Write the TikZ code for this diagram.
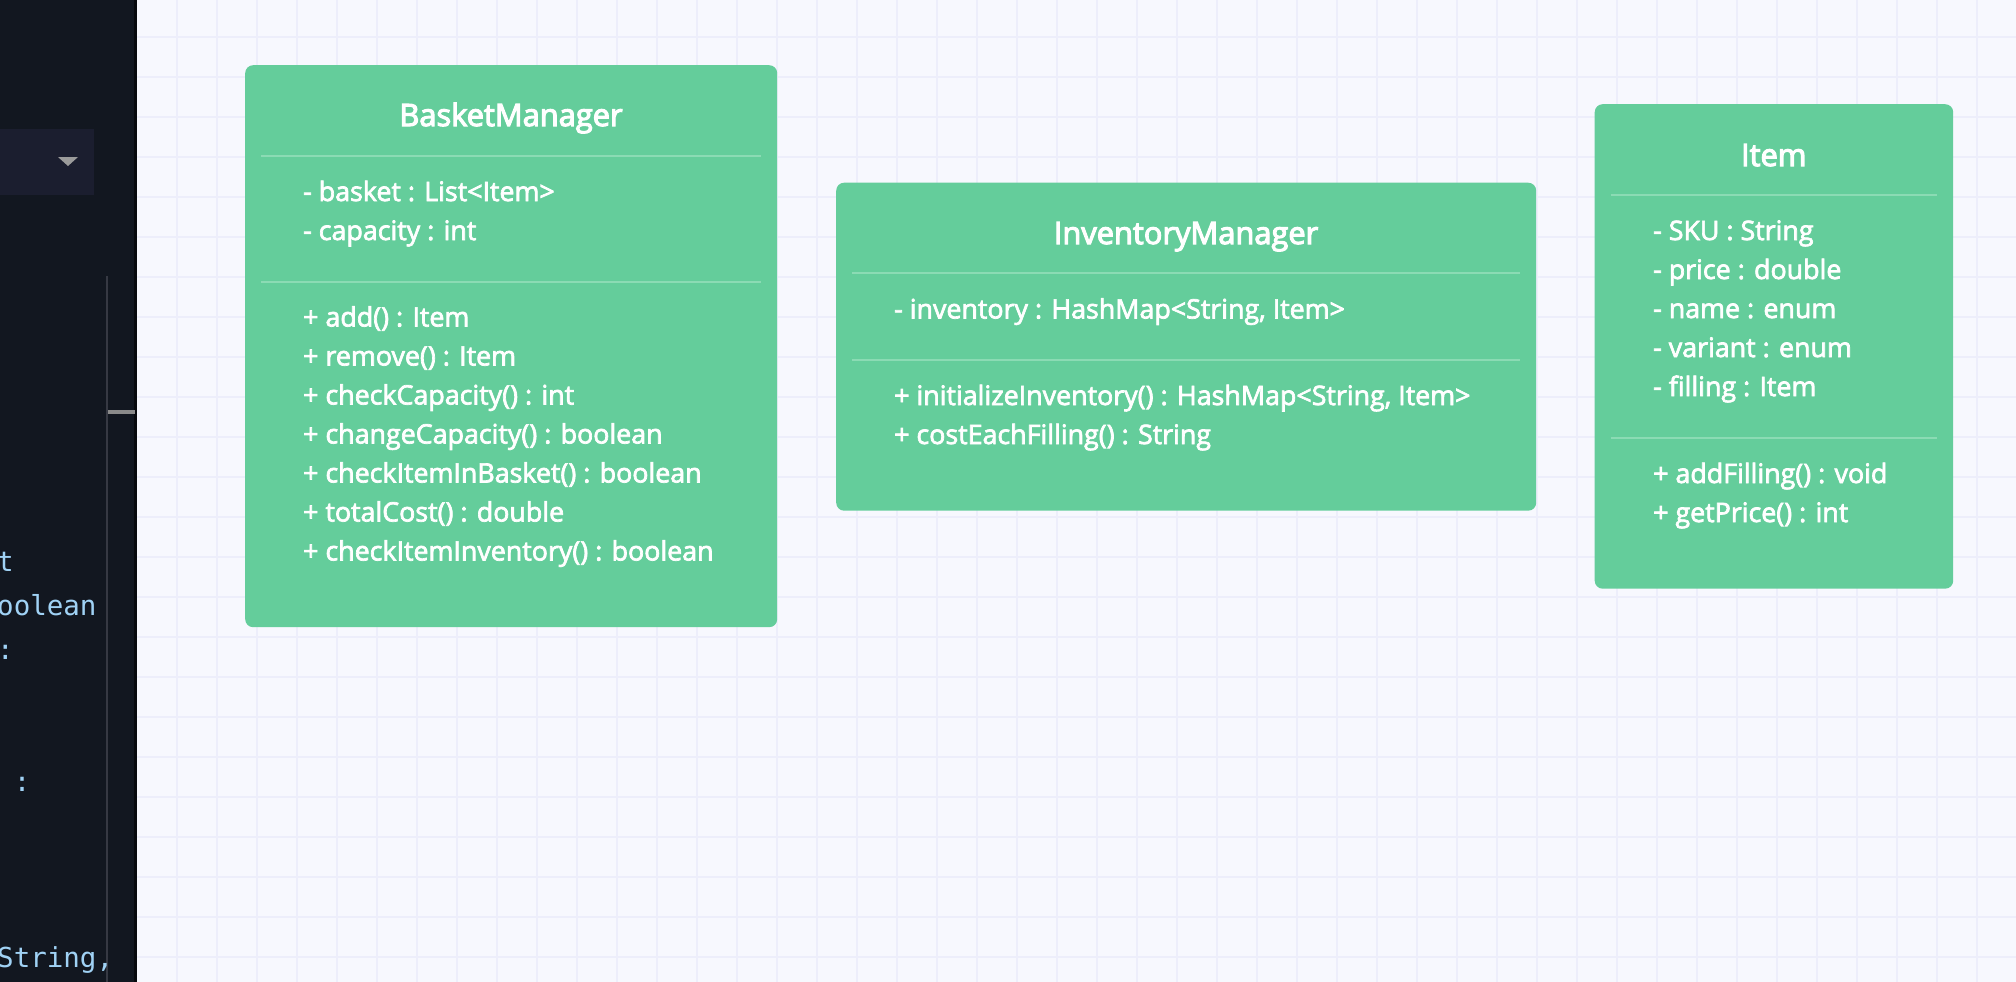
\documentclass[tikz,border=0pt]{standalone}
\usepackage{fontspec}
\usetikzlibrary{calc}
\newfontfamily\uifont[FakeBold=2.6]{Open Sans}
\newfontfamily\uititlefont[FakeBold=3.6]{Open Sans}
\newfontfamily\codefont{DejaVu Sans Mono}
\definecolor{bgc}{HTML}{F7F8FE}
\definecolor{gridc}{HTML}{EDEEFB}
\definecolor{panelc}{HTML}{121720}
\definecolor{edgec}{HTML}{07090D}
\definecolor{dropc}{HTML}{1B1E2F}
\definecolor{trianglec}{HTML}{9B9B9B}
\definecolor{vlinec}{HTML}{363943}
\definecolor{barc}{HTML}{8A8A8A}
\definecolor{boxgreen}{HTML}{64CD9B}
\definecolor{sepgreen}{HTML}{8BDBB4}
\definecolor{codeblue}{HTML}{A0D2F5}
\tikzset{
  umlbox/.style={fill=boxgreen, rounded corners=8pt, inner sep=0pt, anchor=north west},
  sepline/.style={draw=sepgreen, line width=2pt},
  ttl/.style={font=\uititlefont\fontsize{30.8}{30.8}\selectfont, text=white, anchor=base, inner sep=0pt},
  row/.style={font=\uifont\fontsize{26.8}{26.8}\selectfont, text=white, anchor=base west, inner sep=0pt},
  code/.style={font=\codefont\fontsize{27.5}{27.5}\selectfont, text=codeblue, anchor=base west, inner sep=0pt},
  gridline/.style={draw=gridc, line width=2pt}
}
\begin{document}
\begin{tikzpicture}[x=1pt,y=-1pt]
\useasboundingbox (0,0) rectangle (2016,982);
\fill[bgc] (0,0) rectangle (2016,982);
\foreach \x in {177,217,...,2016} \draw[gridline] (\x,0) -- (\x,982);
\foreach \y in {37,77,...,982} \draw[gridline] (137,\y) -- (2016,\y);

% left code panel
\fill[panelc] (0,0) rectangle (135,982);
\fill[edgec] (134,0) rectangle (137,982);
\fill[dropc] (0,128.5) rectangle (94,195);
\fill[trianglec] (58,157) -- (78,157) -- (68,166) -- cycle;
\draw[vlinec, line width=1.5pt] (107,276) -- (107,982);
\fill[barc] (108,410) rectangle (135,414);
\begin{scope}
\clip (0,0) rectangle (134,982);
\node[code] (c1) at (-3,571.5) {t};
\node[code] (c2) at (-3,615.5) {oolean};
\node[code] (c3) at (-3,659.5) {:};
\node[code] (c4) at (13.6,791.5) {:};
\node[code] (c5) at (-3,967.5) {String,};
\end{scope}

% BasketManager
\node[umlbox, minimum width=532pt, minimum height=562pt] (basket) at (245,65) {};
\draw[sepline] ($(basket.north west)+(16,90.5)$) -- ($(basket.north east)+(-16,90.5)$);
\draw[sepline] ($(basket.north west)+(16,216.5)$) -- ($(basket.north east)+(-16,216.5)$);
\node[ttl] (basketT) at (511,126) {BasketManager};
\node[row] (basketA1) at (303,201) {- basket : List<Item>};
\node[row] (basketA2) at (303,240) {- capacity : int};
\node[row] (basketM1) at (303,326.5) {+ add() : Item};
\node[row] (basketM2) at (303,365.5) {+ remove() : Item};
\node[row] (basketM3) at (303,404.5) {+ checkCapacity() : int};
\node[row] (basketM4) at (303,443.5) {+ changeCapacity() : boolean};
\node[row] (basketM5) at (303,482.5) {+ checkItemInBasket() : boolean};
\node[row] (basketM6) at (303,521.5) {+ totalCost() : double};
\node[row] (basketM7) at (303,560.5) {+ checkItemInventory() : boolean};

% InventoryManager
\node[umlbox, minimum width=700pt, minimum height=328pt] (inv) at (836,182.5) {};
\draw[sepline] ($(inv.north west)+(16,90)$) -- ($(inv.north east)+(-16,90)$);
\draw[sepline] ($(inv.north west)+(16,177.5)$) -- ($(inv.north east)+(-16,177.5)$);
\node[ttl] (invT) at (1186,244) {InventoryManager};
\node[row] (invA1) at (894,318.5) {- inventory : HashMap<String, Item>};
\node[row] (invM1) at (894,405) {+ initializeInventory() : HashMap<String, Item>};
\node[row] (invM2) at (894,444) {+ costEachFilling() : String};

% Item
\node[umlbox, minimum width=358.5pt, minimum height=484.5pt] (item) at (1594.5,104) {};
\draw[sepline] ($(item.north west)+(16,91)$) -- ($(item.north east)+(-16,91)$);
\draw[sepline] ($(item.north west)+(16,333.5)$) -- ($(item.north east)+(-16,333.5)$);
\node[ttl] (itemT) at (1773.75,166) {Item};
\node[row] (itemA1) at (1653,240) {- SKU : String};
\node[row] (itemA2) at (1653,279) {- price : double};
\node[row] (itemA3) at (1653,318) {- name : enum};
\node[row] (itemA4) at (1653,357) {- variant : enum};
\node[row] (itemA5) at (1653,396) {- filling : Item};
\node[row] (itemM1) at (1653,483) {+ addFilling() : void};
\node[row] (itemM2) at (1653,522) {+ getPrice() : int};
\end{tikzpicture}
\end{document}
